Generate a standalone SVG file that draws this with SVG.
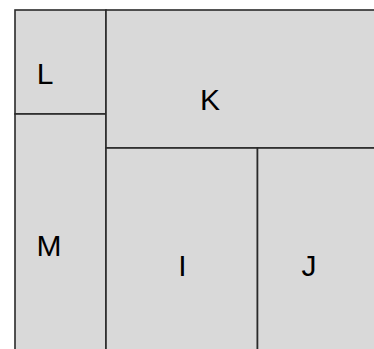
<svg xmlns="http://www.w3.org/2000/svg" width="374" height="349" viewBox="0 0 374 349">
<style>
.c{fill:#d9d9d9;stroke:#2a2a2a;stroke-width:1.6}
.t{font-family:"Liberation Sans",Arial,sans-serif;font-size:30px;fill:#000;text-anchor:middle}
</style>
<rect x="0" y="0" width="374" height="349" fill="#fff"/>
<g id="L"><rect class="c" x="15" y="10" width="91" height="104"/><text class="t" x="45" y="83.5">L</text></g>
<g id="M"><rect class="c" x="15" y="114" width="91" height="245"/><text class="t" x="49" y="256">M</text></g>
<g id="K"><rect class="c" x="106" y="10" width="278" height="138"/><text class="t" x="210" y="109.5">K</text></g>
<g id="I"><rect class="c" x="106" y="148" width="151.5" height="211"/><text class="t" x="182.5" y="276">I</text></g>
<g id="J"><rect class="c" x="257.5" y="148" width="126.5" height="211"/><text class="t" x="309" y="276">J</text></g>
<g id="connectors"></g>
</svg>
